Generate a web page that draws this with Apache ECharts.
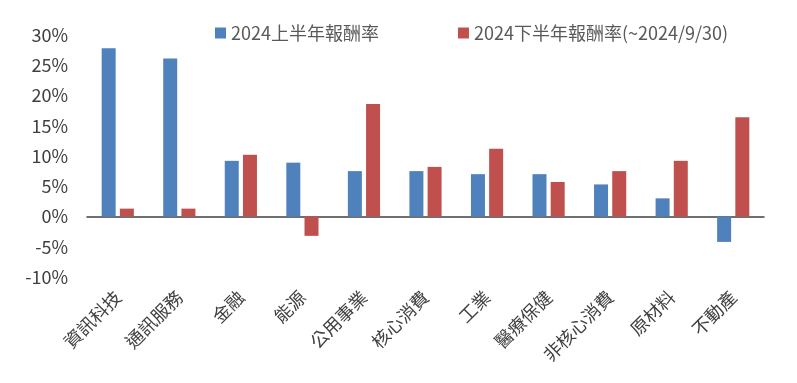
<!DOCTYPE html>
<html><head><meta charset="utf-8">
<script src="https://cdn.jsdelivr.net/npm/echarts@6/dist/echarts.min.js"></script>
<style>html,body{margin:0;padding:0;background:#fff}#c{width:797px;height:383px}</style>
</head><body><div id="c"></div>
<script>
const categories = ['資訊科技','通訊服務','金融','能源','公用事業','核心消費','工業','醫療保健','非核心消費','原材料','不動產'];
const seriesNames = ['2024上半年報酬率','2024下半年報酬率(~2024/9/30)'];
const h1Values = [27.8, 26.1, 9.2, 8.9, 7.5, 7.5, 7.0, 7.0, 5.3, 3.0, -4.2];
const h2Values = [1.3, 1.3, 10.2, -3.2, 18.6, 8.2, 11.2, 5.7, 7.5, 9.2, 16.4];
const yTicks = { min: -10, max: 30, interval: 5 };

const font = '"Noto Sans CJK TC", "Noto Sans", sans-serif';
const chart = echarts.init(document.getElementById('c'));
chart.setOption({
  animation: false,
  textStyle: { fontFamily: font },
  legend: {
    left: 210, top: 19, itemWidth: 11, itemHeight: 11, itemGap: 79,
    icon: 'rect',
    textStyle: { fontSize: 18, color: '#595959', fontFamily: font },
    data: seriesNames
  },
  grid: { left: 87, right: 33, top: 35, bottom: 106 },
  xAxis: [
    { type: 'category', data: categories, axisLine: { onZero: true, lineStyle: { color: '#404040', width: 1.5 } },
      axisTick: { show: false }, axisLabel: { show: false }, splitLine: { show: false } },
    { type: 'category', data: categories, position: 'bottom', axisLine: { show: false, onZero: false },
      axisTick: { show: false }, splitLine: { show: false },
      axisLabel: { rotate: 45, interval: 0, margin: 17, fontSize: 18, color: '#404040', fontFamily: font } }
  ],
  yAxis: {
    type: 'value', min: yTicks.min, max: yTicks.max, interval: yTicks.interval,
    axisLine: { show: false }, axisTick: { show: false }, splitLine: { show: false },
    axisLabel: { formatter: v => v + '%', fontSize: 18, color: '#404040', margin: 19, fontFamily: font }
  },
  series: [
    { name: seriesNames[0], type: 'bar', data: h1Values, barWidth: 14, barGap: '30%',
      itemStyle: { color: '#4F81BD' } },
    { name: seriesNames[1], type: 'bar', data: h2Values, barWidth: 14, barGap: '30%',
      itemStyle: { color: '#C0504D' } }
  ]
});
</script></body></html>
